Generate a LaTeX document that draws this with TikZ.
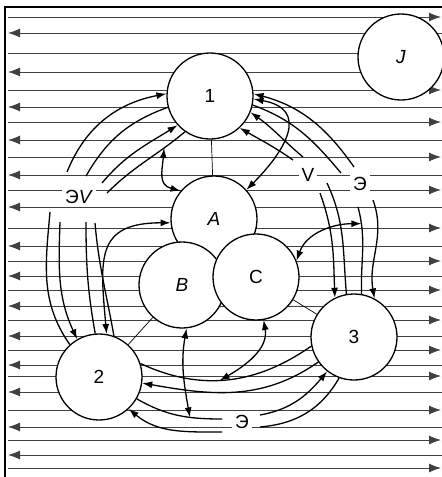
\documentclass[tikz,border=0pt]{standalone}
\usepackage{fontspec}
\setmainfont{Liberation Sans}
\usetikzlibrary{arrows.meta}

\begin{document}
\begin{tikzpicture}[
    x=1pt, y=-1pt,
    ball/.style={draw, circle, fill=white, line width=1.3pt, minimum size=86pt, inner sep=0pt, font=\fontsize{19}{22}\selectfont},
    tag/.style={fill=white, inner sep=3pt, font=\fontsize{19}{22}\selectfont},
    flowl/.style={black!75, line width=0.9pt, {Latex[length=12pt,width=9pt]}-},
    flowr/.style={black!75, line width=0.9pt, -{Latex[length=12pt,width=9pt]}},
    bond/.style={line width=0.7pt},
    plain/.style={line width=1.3pt},
    arrow/.style={line width=1.3pt, -{Latex[length=10pt,width=7pt]}},
    both/.style={line width=1.3pt, {Latex[length=10pt,width=7pt]}-{Latex[length=10pt,width=7pt]}}
]
\useasboundingbox (0,0) rectangle (442,477);

% flow field
\foreach \y in {33,72,107,140,175,207,246,276,306,336,365,392,427,455}
    \draw[flowl] (8,\y) -- (445,\y);
\foreach \y in {17,53,90,122,157,190,228,261,290,320,350,376,410,440,468}
    \draw[flowr] (8,\y) -- (441,\y);
\draw[line width=2pt] (5,477) -- (5,7) -- (442,7);

% particles
\node[ball] (n1) at (210,96) {1};
\node[ball] (nA) at (214,219) {\textit{A}};
\node[ball] (nB) at (182,285) {\textit{B}};
\node[ball] (nC) at (256,277) {C};
\node[ball] (n2) at (99,377) {2};
\node[ball] (n3) at (354,337) {3};
\node[ball] (nJ) at (401,57) {\textit{J}};

\node[tag] (ev) at (79,197) {Э\textit{V}};
\node[tag] (vr) at (308,175) {V};
\node[tag] (er) at (360,184) {Э};
\node[tag] (eb) at (242,422) {Э};

\draw[bond] (n1) -- (nA);
\draw[bond] (nB) -- (n2);
\draw[bond] (nC) -- (n3);

% 1 -- 2
\draw[arrow] ([shift={(-12,-25)}]ev.center) to[out=68,in=191] (n1.177);
\draw[plain] ([shift={(7,-21)}]ev.center) to[out=60,in=200] (n1.195);
\draw[arrow] ([shift={(23,-14)}]ev.center) to[out=50,in=212] (n1.222);
\draw[plain] ([shift={(28,-4)}]ev.center) to[out=45,in=220] coordinate[pos=0.75] (l4m) (n1.235);
\draw[plain] ([shift={(-29,15)}]ev.center) to[out=265,in=125] (n2.132);
\draw[arrow] ([shift={(-19,25)}]ev.center) to[out=268,in=115] (n2.120);
\draw[plain] ([shift={(7,25)}]ev.center) to[out=270,in=100] (n2.95);
\draw[plain] ([shift={(16,26)}]ev.center) to[out=275,in=100] (n2.70);
\draw[both] (nA.140) to[out=165,in=265,looseness=1.3] (l4m);
\draw[both] (nA.185) to[out=180,in=95,looseness=1.5] (n2.80);

% 1 -- 3
\draw[arrow] ([shift={(-6,-17)}]er.center) to[out=125,in=-15] (n1.3);
\draw[plain] ([shift={(-19,-11)}]er.center) to[out=130,in=-20] (n1.-12);
\draw[arrow] ([shift={(-5,-18)}]vr.center) to[out=140,in=-35] (n1.-22);
\draw[arrow] ([shift={(-15,-15)}]vr.center) to[out=145,in=-30] (n1.-47);
\draw[both] (nA.42) to[out=45,in=-10,looseness=1.6] (n1.-4);
\draw[arrow] ([shift={(12,18)}]vr.center) to[out=290,in=92] (n3.116);
\draw[plain] ([shift={(19,8)}]vr.center) to[out=295,in=95] (n3.100);
\draw[plain] ([shift={(-2,23)}]er.center) to[out=285,in=92] coordinate[pos=0.18] (e3m) (n3.80);
\draw[arrow] ([shift={(13,16)}]er.center) to[out=290,in=100] (n3.62);
\draw[both] (nC.22) to[out=70,in=180] (e3m);

% 2 -- 3
\draw[plain] (n2.18) to[out=-25,in=215] coordinate[pos=0.45] (xm) (n3.192);
\draw[arrow] (n3.215) to[out=215,in=-10] (n2.-8);
\draw[plain] ([shift={(-20,-3)}]eb.center) to[out=180,in=-30] coordinate[pos=0.35] (bm) (n2.-30);
\draw[arrow] ([shift={(-20,10)}]eb.center) to[out=180,in=-40] (n2.-47);
\draw[arrow] ([shift={(18,-7)}]eb.center) to[out=10,in=230] (n3.232);
\draw[plain] ([shift={(18,5)}]eb.center) to[out=5,in=240] (n3.250);
\draw[both] (nB.-84) to[out=260,in=100] (bm);
\draw[both] (nC.-80) to[out=280,in=30] (xm);
\end{tikzpicture}
\end{document}
